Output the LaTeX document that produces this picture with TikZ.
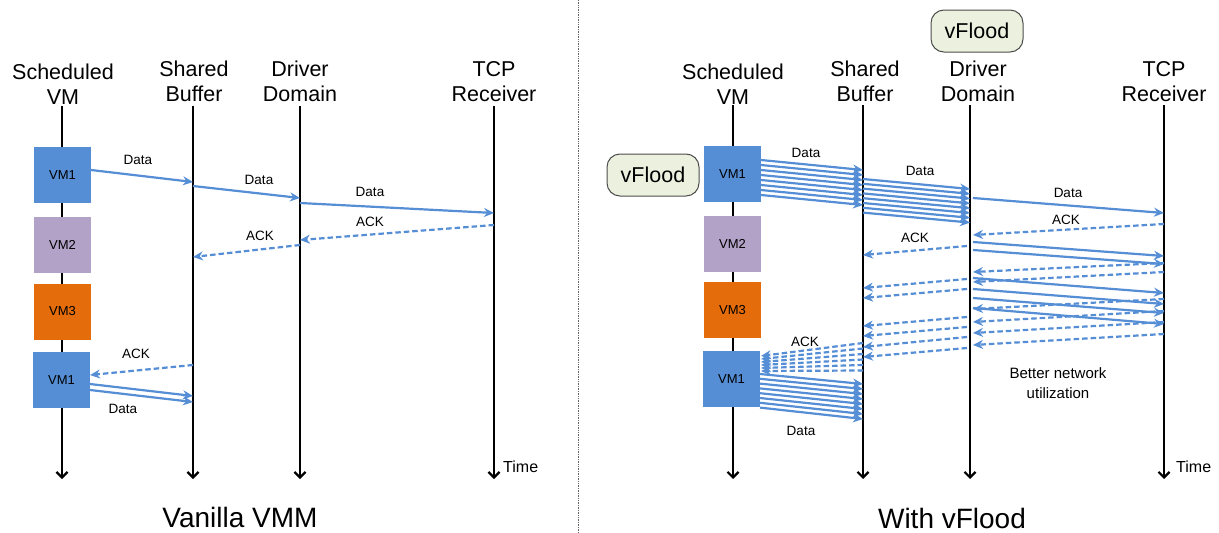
\documentclass[tikz,border=0pt]{standalone}
\usepackage{fontspec}
\setmainfont{Liberation Sans}
\usetikzlibrary{arrows.meta,calc}
\definecolor{ablue}{RGB}{85,142,213}
\definecolor{vmblue}{RGB}{85,142,213}
\definecolor{vmpurple}{RGB}{179,162,199}
\definecolor{vmorange}{RGB}{228,108,10}
\definecolor{vfill}{RGB}{235,241,222}
\tikzset{
 lifeline/.style={line width=2.2pt, -{Straight Barb[length=5.5pt,width=11pt]}},
 head/.style={font=\fontsize{21.5}{25}\selectfont, align=center, inner sep=0pt},
 vmbox/.style={minimum width=57pt, minimum height=56pt, inner sep=0pt, font=\fontsize{13}{15}\selectfont},
 msg/.style={draw=ablue, line width=2.2pt, -{Stealth[length=10pt,width=9pt]}},
 ack/.style={msg, dash pattern=on 5.5pt off 3pt},
 lbl/.style={font=\fontsize{13.5}{16}\selectfont, inner sep=0pt},
 vflood/.style={draw=black!70, fill=vfill, rounded corners=13pt, minimum width=92pt, minimum height=42pt, font=\fontsize{21.5}{25}\selectfont, line width=1pt},
 ttl/.style={font=\fontsize{28}{33}\selectfont, inner sep=0pt},
}
\begin{document}
\begin{tikzpicture}[x=1pt,y=-1pt]
\useasboundingbox (0,0) rectangle (1219,533);
% separator
\coordinate (sept) at (578,0);
\coordinate (sepb) at (578,533);
\draw[black!60, line width=0.7pt, densely dotted] (sept) -- (sepb);

% ================= LEFT =================
\node[head] (hL1) at (63,84) {Scheduled\\VM};
\node[head] (hL2) at (194,81) {Shared\\Buffer};
\node[head] (hL3) at (300,81) {Driver\\Domain};
\node[head] (hL4) at (494,82) {TCP\\Receiver};
\foreach \n/\x in {1/62,2/193,3/300,4/494}{
  \coordinate (L\n t) at (\x,106);
  \coordinate (L\n b) at (\x,479);
  \draw[lifeline] (L\n t) -- (L\n b);
}
\node[lbl, font=\fontsize{16}{19}\selectfont, anchor=west] (timeL) at (503,467) {Time};
\node[vmbox, fill=vmblue] (lvm1) at (62.5,175) {VM1};
\node[vmbox, fill=vmpurple] (lvm2) at (62.5,244.5) {VM2};
\node[vmbox, fill=vmorange] (lvm3) at (62.5,311.5) {VM3};
\node[vmbox, fill=vmblue] (lvm4) at (61.5,380) {VM1};

\coordinate (a1s) at (91,170);  \coordinate (a1e) at (193,182);
\coordinate (a2s) at (193,186); \coordinate (a2e) at (300,198);
\coordinate (a3s) at (300,203); \coordinate (a3e) at (494,213);
\coordinate (a4s) at (494,225); \coordinate (a4e) at (300,240);
\coordinate (a5s) at (300,245); \coordinate (a5e) at (193,257);
\coordinate (a6s) at (193,365); \coordinate (a6e) at (90,375);
\coordinate (a7s) at (90,384);  \coordinate (a7e) at (193,396);
\coordinate (a8s) at (90,390);  \coordinate (a8e) at (193,402);
\draw[msg] (a1s) -- (a1e);
\draw[msg] (a2s) -- (a2e);
\draw[msg] (a3s) -- (a3e);
\draw[ack] (a4s) -- (a4e);
\draw[ack] (a5s) -- (a5e);
\draw[ack] (a6s) -- (a6e);
\draw[msg] (a7s) -- (a7e);
\draw[msg] (a8s) -- (a8e);
\node[lbl] (la1) at (138,160) {Data};
\node[lbl] (la2) at (259,180) {Data};
\node[lbl] (la3) at (370,192) {Data};
\node[lbl] (la4) at (370,222) {ACK};
\node[lbl] (la5) at (260,236) {ACK};
\node[lbl] (la6) at (136,354) {ACK};
\node[lbl] (la7) at (123,409) {Data};
\node[ttl] (tL) at (240,517) {Vanilla VMM};

% ================= RIGHT =================
\node[vflood] (vfTop) at (977,31) {vFlood};
\node[vflood] (vfLeft) at (653,175) {vFlood};
\node[head] (hR1) at (733,84) {Scheduled\\VM};
\node[head] (hR2) at (865,81) {Shared\\Buffer};
\node[head] (hR3) at (978,81) {Driver\\Domain};
\node[head] (hR4) at (1164,82) {TCP\\Receiver};
\foreach \n/\x in {1/733,2/863,3/970,4/1164}{
  \coordinate (R\n t) at (\x,105);
  \coordinate (R\n b) at (\x,479);
  \draw[lifeline] (R\n t) -- (R\n b);
}
\node[lbl, font=\fontsize{16}{19}\selectfont, anchor=west] (timeR) at (1176,467) {Time};
\node[vmbox, fill=vmblue] (rvm1) at (732.5,174) {VM1};
\node[vmbox, fill=vmpurple] (rvm2) at (732.5,243.5) {VM2};
\node[vmbox, fill=vmorange] (rvm3) at (732.5,310) {VM3};
\node[vmbox, fill=vmblue] (rvm4) at (731.5,379) {VM1};

% burst VM1 -> shared buffer
\foreach \i in {0,...,7}{
  \coordinate (bA\i s) at (761,160+5*\i);
  \coordinate (bA\i e) at (863,170+5*\i);
  \draw[msg] (bA\i s) -- (bA\i e);
}
% burst shared buffer -> driver
\foreach \i in {0,...,7}{
  \coordinate (bB\i s) at (863,179+4.8*\i);
  \coordinate (bB\i e) at (970,189+4.8*\i);
  \draw[msg] (bB\i s) -- (bB\i e);
}
% driver -> TCP data
\foreach \k/\ys/\ye in {0/198/213,1/242/256,2/250/264,3/278/293,4/289/304,5/298/313,6/308/324}{
  \coordinate (dT\k s) at (973,\ys);
  \coordinate (dT\k e) at (1164,\ye);
  \draw[msg] (dT\k s) -- (dT\k e);
}
% TCP -> driver acks
\foreach \k/\ys/\ye in {0/224/235,1/263/272,2/272/282,3/299/309,4/311/322,5/322/333,6/334/345}{
  \coordinate (aT\k s) at (1164,\ys);
  \coordinate (aT\k e) at (973,\ye);
  \draw[ack] (aT\k s) -- (aT\k e);
}
% driver -> shared buffer acks
\foreach \k/\ys/\ye in {0/246/255,1/279/288,2/289/298,3/317/326,4/327/336,5/337/347,6/348/357}{
  \coordinate (aD\k s) at (967,\ys);
  \coordinate (aD\k e) at (863,\ye);
  \draw[ack] (aD\k s) -- (aD\k e);
}
% shared buffer -> VM1 acks
\foreach \i in {0,...,5}{
  \coordinate (aS\i s) at (863,343+5.5*\i);
  \coordinate (aS\i e) at (761,356+3*\i);
  \draw[ack] (aS\i s) -- (aS\i e);
}
% second burst VM1 -> shared buffer
\foreach \i in {0,...,7}{
  \coordinate (bC\i s) at (760,374+4.8*\i);
  \coordinate (bC\i e) at (863,384+5*\i);
  \draw[msg] (bC\i s) -- (bC\i e);
}
\node[lbl] (lr1) at (806,153) {Data};
\node[lbl] (lr2) at (920,171) {Data};
\node[lbl] (lr3) at (1068,193) {Data};
\node[lbl] (lr4) at (1066,220) {ACK};
\node[lbl] (lr5) at (915,238) {ACK};
\node[lbl] (lr6) at (805,342) {ACK};
\node[lbl] (lr7) at (801,431) {Data};
\node[lbl, font=\fontsize{15}{20}\selectfont, align=center] (better) at (1058,383) {Better network\\utilization};
\node[ttl] (tR) at (952,518) {With vFlood};
\end{tikzpicture}
\end{document}
